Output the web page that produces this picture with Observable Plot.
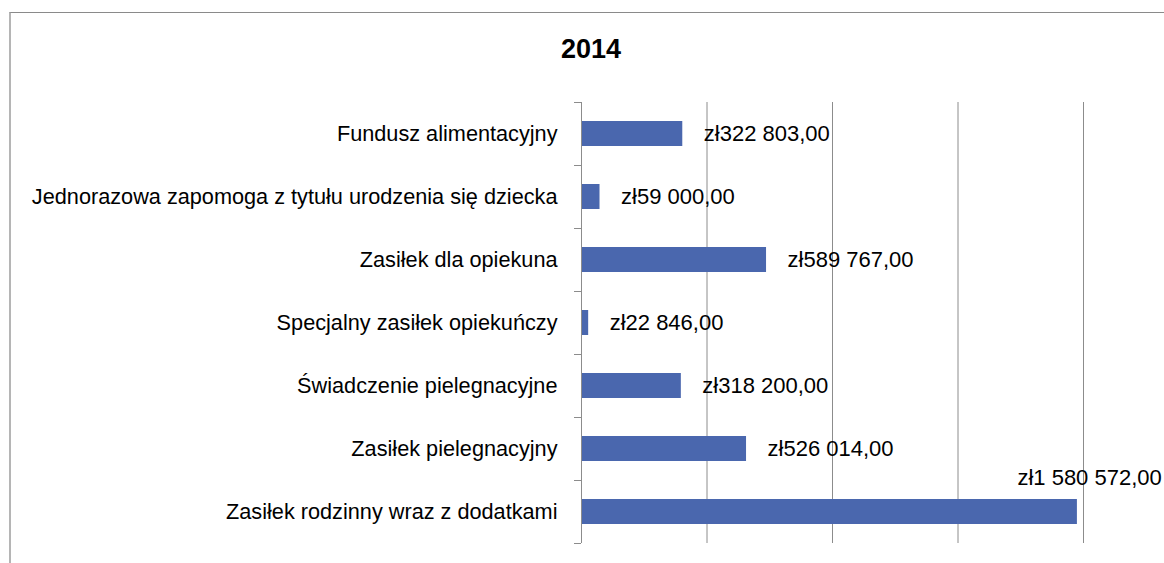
<!DOCTYPE html>
<html>
<head>
<meta charset="utf-8">
<script src="https://cdn.jsdelivr.net/npm/d3@7"></script>
<script src="https://cdn.jsdelivr.net/npm/@observablehq/plot@0.6"></script>
<style>
  html, body { margin: 0; padding: 0; background: #fff; }
  #wrap { position: relative; width: 1164px; height: 563px; overflow: hidden; font-family: "Liberation Sans", Arial, sans-serif; }
  #frame { position: absolute; left: 9px; top: 12px; width: 1200px; height: 600px; border-top: 1px solid #8a8a8a; border-left: 2px solid #b5b5b5; pointer-events: none; }
  #title { position: absolute; left: 0; width: 1182px; top: 34px; text-align: center; font-weight: bold; font-size: 27px; color: #000; }
  #chart { position: absolute; left: 0; top: 0; }
</style>
</head>
<body>
<div id="wrap">
  <div id="chart"></div>
  <div id="frame"></div>
  <div id="title">2014</div>
</div>
<script>
const categories = [
  "Fundusz alimentacyjny",
  "Jednorazowa zapomoga z tytułu urodzenia się dziecka",
  "Zasiłek dla opiekuna",
  "Specjalny zasiłek opiekuńczy",
  "Świadczenie pielegnacyjne",
  "Zasiłek pielegnacyjny",
  "Zasiłek rodzinny wraz z dodatkami"
];
const values = [322803, 59000, 589767, 22846, 318200, 526014, 1580572];
const gridTicks = [400000, 800000, 1200000, 1600000];
const xMax = 1600000;

const data = categories.map((c, i) => ({category: c, value: values[i]}));
const fmt = v => "zł" + d3.format(",.2f")(v).replace(/,/g, " ").replace(".", ",");
const maxVal = d3.max(values);

const W = 1164, H = 563;
const mTop = 102, mBottom = 20, mLeft = 581, mRight = 81;
const step = (H - mTop - mBottom) / categories.length;

const chart = Plot.plot({
  width: W,
  height: H,
  marginTop: mTop,
  marginBottom: mBottom,
  marginLeft: mLeft,
  marginRight: mRight,
  style: {fontFamily: "'Liberation Sans', Arial, sans-serif", background: "transparent", overflow: "visible"},
  x: {domain: [0, xMax], axis: null, label: null},
  y: {domain: categories, paddingInner: 0.6, paddingOuter: 0.3, axis: null, label: null},
  marks: [
    Plot.gridX(gridTicks, {stroke: "#8c8c8c", strokeOpacity: 1, strokeWidth: 1}),
    Plot.barX(data, {x: "value", y: "category", fill: "#4a67ae"}),
    Plot.ruleX([0], {stroke: "#8c8c8c", strokeWidth: 1}),
    Plot.axisY({tickSize: 7, dy: -step / 2, tickFormat: () => "", stroke: "#8c8c8c", label: null}),
    Plot.axisY({ticks: [categories[categories.length - 1]], tickSize: 7, dy: step / 2, tickFormat: () => "", stroke: "#8c8c8c", label: null}),
    Plot.axisY({tickSize: 0, tickPadding: 24, fontSize: 21.7, fill: "#000", label: null}),
    Plot.text(data.filter(d => d.value !== maxVal), {x: "value", y: "category", text: d => fmt(d.value), textAnchor: "start", dx: 21, fontSize: 22, fill: "#000"}),
    Plot.text(data.filter(d => d.value === maxVal), {x: "value", y: "category", text: d => fmt(d.value), textAnchor: "start", dx: -60, dy: -34, fontSize: 22, fill: "#000"})
  ]
});
document.getElementById("chart").appendChild(chart);
</script>
</body>
</html>
